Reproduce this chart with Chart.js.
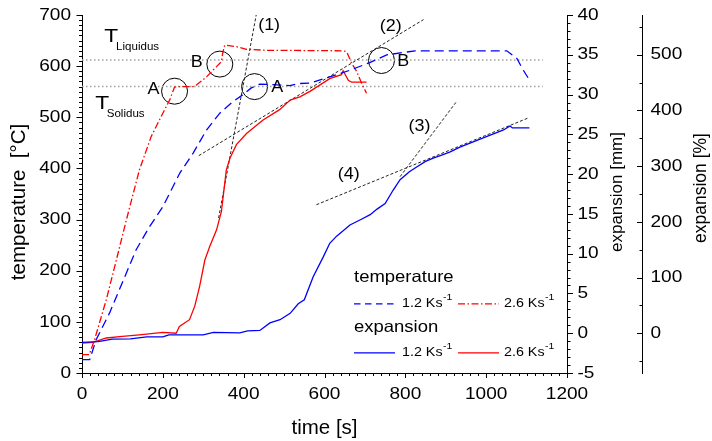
<!DOCTYPE html>
<html>
<head>
<meta charset="utf-8">
<script src="https://cdn.jsdelivr.net/npm/chart.js@4.4.0/dist/chart.umd.min.js"></script>
<style>
  html, body { margin: 0; padding: 0; background: #fff; }
  canvas { display: block; }
</style>
</head>
<body>
<canvas id="chart" width="712" height="441"></canvas>
<script>
// temperature, 1.2 K/s (dashed blue)
const timeT12 = [0, 19, 35, 68, 101, 134, 167, 200, 242, 275, 308, 341, 374, 398, 418, 440, 514, 539, 564, 613, 663, 712, 754, 824, 1051, 1076, 1092, 1107];
const tempT12 = [26, 26, 65, 117, 179, 241, 286, 325, 391, 430, 475, 508, 531, 544, 557, 565, 562, 566, 567, 579, 592, 607, 622, 630, 630, 615, 592, 573];

// temperature, 2.6 K/s (dash-dot red)
const timeT26 = [0, 18, 31, 60, 85, 110, 142, 171, 200, 217, 229, 241, 275, 283, 308, 333, 345, 348, 353, 382, 407, 456, 646, 655, 667, 680, 692, 704];
const tempT26 = [36, 36, 65, 143, 221, 300, 397, 462, 508, 534, 559, 560, 560, 563, 579, 599, 609, 625, 641, 638, 633, 631, 630, 628, 606, 589, 566, 547];

// expansion [mm], 1.2 K/s (solid blue)
const timeE12 = [0, 40, 75, 120, 160, 200, 215, 300, 325, 390, 410, 440, 465, 490, 515, 535, 550, 572, 597, 613, 630, 663, 690, 713, 730, 750, 770, 787, 810, 828, 850, 869, 890, 911, 935, 960, 985, 1010, 1043, 1059, 1065, 1107];
const expE12 = [-1.16, -1.05, -0.75, -0.72, -0.45, -0.45, -0.2, -0.2, 0.1, 0.05, 0.3, 0.35, 1.3, 1.7, 2.5, 3.7, 4.2, 7.1, 9.6, 11.3, 12.2, 13.6, 14.3, 14.9, 15.6, 16.3, 18.0, 19.3, 20.3, 20.9, 21.6, 22.0, 22.4, 22.8, 23.4, 23.9, 24.4, 24.9, 25.55, 26.05, 25.8, 25.8];

// expansion [mm], 2.6 K/s (solid red)
const timeE26 = [0, 27, 60, 100, 142, 200, 233, 241, 266, 279, 291, 304, 316, 333, 345, 357, 366, 382, 407, 448, 489, 515, 539, 564, 613, 642, 646, 659, 667, 704];
const expE26 = [-1.23, -1.16, -0.6, -0.4, -0.2, 0.1, 0.0, 0.85, 1.7, 3.4, 5.9, 9.2, 10.9, 13.0, 15.3, 20.5, 22.0, 23.7, 25.1, 26.8, 28.1, 29.3, 29.7, 30.4, 32.0, 32.5, 33.0, 31.8, 31.55, 31.55];

// tangents (1)-(4), in temperature units
const tan1Time = [338, 431], tan1Val = [303, 700];
const tan2Time = [289, 845], tan2Val = [425, 691];
const tan3Time = [787, 925], tan3Val = [384, 529];
const tan4Time = [580, 1102], tan4Val = [329, 498];

// liquidus / solidus levels
const levelSpan = [0, 1140];
const tLiquidus = 612;
const tSolidus = 560;

// circled points A / B
const circTime = [229, 341, 427, 741];
const circVal = [551, 604, 560, 611];

// tick labels
const tempTicks = [0, 100, 200, 300, 400, 500, 600, 700];
const timeTicks = [0, 200, 400, 600, 800, 1000, 1200];
const mmTicks = [-5, 0, 5, 10, 15, 20, 25, 30, 35, 40];
const pctTicks = [0, 100, 200, 300, 400, 500];
const sampleLength = 7; // mm, 100 %

// labels placed in data units (time, temperature)
const notes = [
  ['A', 177, 555], ['B', 284, 607], ['A', 483, 559], ['B', 795, 609],
  ['(1)', 463, 680], ['(2)', 764, 678], ['(3)', 835, 482], ['(4)', 660, 387]
];
const legendAt = [673, 186];

const BLUE = '#0000ff', RED = '#ff0000';
const DASH = [9, 5], DASHDOT = [7, 2.5, 1.5, 2.5];
const FONT = '"Liberation Sans", Arial, sans-serif';

const pts = (xs, ys) => xs.map((v, i) => ({ x: v, y: ys[i] }));

// the original lettering is a little wide, so text can be stretched by sx
function txt(ctx, s, x, y, size, align, rot, sx) {
  sx = sx || 1.12;
  ctx.save();
  ctx.translate(x, y);
  if (rot) ctx.rotate(rot);
  ctx.scale(sx, 1);
  ctx.font = size + 'px ' + FONT;
  ctx.textAlign = align || 'left';
  ctx.textBaseline = 'middle';
  ctx.fillStyle = '#000';
  ctx.fillText(s, 0, 0);
  const w = ctx.measureText(s).width * sx;
  ctx.restore();
  return w;
}

function vMarks(ctx, s, x0, lo, hi, minor, major, dir) {
  const n = Math.round((hi - lo) / minor);
  ctx.beginPath();
  for (let i = 0; i <= n; i++) {
    const v = lo + i * minor;
    const big = Math.abs(v / major - Math.round(v / major)) < 1e-6;
    const py = Math.round(s.getPixelForValue(v)) + 0.5;
    ctx.moveTo(x0, py);
    ctx.lineTo(x0 + dir * (big ? 5.5 : 3), py);
  }
  ctx.stroke();
}

function hMarks(ctx, s, y0, lo, hi, minor, major) {
  const n = Math.round((hi - lo) / minor);
  ctx.beginPath();
  for (let i = 0; i <= n; i++) {
    const v = lo + i * minor;
    const big = Math.abs(v / major - Math.round(v / major)) < 1e-6;
    const px = Math.round(s.getPixelForValue(v)) + 0.5;
    ctx.moveTo(px, y0);
    ctx.lineTo(px, y0 + (big ? 5 : 3));
  }
  ctx.stroke();
}

function sample(ctx, x1, x2, y, color, dash) {
  ctx.save();
  ctx.strokeStyle = color;
  ctx.lineWidth = 1.3;
  ctx.setLineDash(dash);
  ctx.beginPath();
  ctx.moveTo(x1, y);
  ctx.lineTo(x2, y);
  ctx.stroke();
  ctx.restore();
}

function entry(ctx, s, x, y) {
  const w = txt(ctx, s + ' Ks', x, y, 13, 'left', 0, 1.1);
  txt(ctx, '-1', x + w + 0.5, y - 6, 9.5, 'left', 0, 1.1);
}

const decor = {
  id: 'decor',
  afterDraw(chart) {
    const ctx = chart.ctx;
    const { x, y, mm, pct } = chart.scales;
    ctx.save();
    ctx.strokeStyle = '#000';
    ctx.lineWidth = 1;
    vMarks(ctx, y, y.right, 0, 700, 10, 100, -1);
    vMarks(ctx, mm, mm.left + 0.5, -5, 40, 1, 5, 1);
    vMarks(ctx, pct, pct.left + 0.5, -50, 550, 50, 100, -1);
    hMarks(ctx, x, x.top, 0, 1200, 20, 200);

    tempTicks.forEach(v => txt(ctx, String(v), 71, y.getPixelForValue(v), 17, 'right'));
    timeTicks.forEach(v => txt(ctx, String(v), x.getPixelForValue(v), 394, 17, 'center'));
    mmTicks.forEach(v => txt(ctx, String(v), mm.left + 10.5, mm.getPixelForValue(v), 17));
    pctTicks.forEach(v => txt(ctx, String(v), pct.left + 8.5, pct.getPixelForValue(v), 17));

    const midY = (chart.chartArea.top + chart.chartArea.bottom) / 2;
    txt(ctx, 'temperature  [°C]', 19, midY + 8, 20.5, 'center', -Math.PI / 2, 1);
    txt(ctx, 'time [s]', (x.left + x.right) / 2, 428, 20.5, 'center', 0, 1);
    txt(ctx, 'expansion [mm]', mm.left + 50.5, midY - 2, 17, 'center', -Math.PI / 2, 1);
    txt(ctx, 'expansion [%]', pct.left + 59, midY - 6, 17.5, 'center', -Math.PI / 2, 1);

    notes.forEach(([s, t, v]) => txt(ctx, s, x.getPixelForValue(t), y.getPixelForValue(v), 16, 'center'));

    const lqX = x.getPixelForValue(72), lqY = y.getPixelForValue(657);
    txt(ctx, 'T', lqX, lqY, 19, 'center', 0, 1.2);
    txt(ctx, 'Liquidus', lqX + 5, lqY + 10, 11, 'left', 0, 1.05);
    const soX = x.getPixelForValue(50), soY = y.getPixelForValue(527);
    txt(ctx, 'T', soX, soY, 19, 'center', 0, 1.2);
    txt(ctx, 'Solidus', soX + 4.5, soY + 10, 11, 'left', 0, 1.05);

    const lx = x.getPixelForValue(legendAt[0]), ly = y.getPixelForValue(legendAt[1]);
    txt(ctx, 'temperature', lx, ly, 16.5);
    sample(ctx, lx, lx + 40, ly + 26, BLUE, [6.5, 4.5]);
    entry(ctx, '1.2', lx + 48, ly + 26);
    sample(ctx, lx + 104, lx + 145, ly + 26, RED, DASHDOT);
    entry(ctx, '2.6', lx + 150, ly + 26);
    txt(ctx, 'expansion', lx, ly + 50, 16.5);
    sample(ctx, lx, lx + 41, ly + 75, BLUE, []);
    entry(ctx, '1.2', lx + 48, ly + 75);
    sample(ctx, lx + 104, lx + 145, ly + 75, RED, []);
    entry(ctx, '2.6', lx + 150, ly + 75);
    ctx.restore();
  }
};

const axisBase = {
  type: 'linear',
  ticks: { display: false },
  grid: { drawOnChartArea: false, drawTicks: false },
  border: { color: '#000', width: 1 }
};

const line = (data, color, dash, axis, width) => ({
  data, yAxisID: axis, borderColor: color, borderDash: dash,
  borderWidth: width, pointRadius: 0, tension: 0, fill: false
});

new Chart(document.getElementById('chart'), {
  type: 'line',
  data: {
    datasets: [
      line(pts(timeT12, tempT12), BLUE, DASH, 'y', 1.3),
      line(pts(timeT26, tempT26), RED, DASHDOT, 'y', 1.3),
      line(pts(timeE12, expE12), BLUE, [], 'mm', 1.3),
      line(pts(timeE26, expE26), RED, [], 'mm', 1.3),
      line(pts(tan1Time, tan1Val), '#222', [3, 2], 'y', 1),
      line(pts(tan2Time, tan2Val), '#222', [3, 2], 'y', 1),
      line(pts(tan3Time, tan3Val), '#222', [3, 2], 'y', 1),
      line(pts(tan4Time, tan4Val), '#222', [3, 2], 'y', 1),
      line(pts(levelSpan, [tLiquidus, tLiquidus]), '#a0a0a0', [1.5, 2.5], 'y', 1.5),
      line(pts(levelSpan, [tSolidus, tSolidus]), '#a0a0a0', [1.5, 2.5], 'y', 1.5),
      {
        data: pts(circTime, circVal), yAxisID: 'y', showLine: false,
        pointRadius: 13, pointStyle: 'circle', pointBorderColor: '#000',
        pointBackgroundColor: 'rgba(0,0,0,0)', pointBorderWidth: 1
      }
    ]
  },
  options: {
    responsive: false,
    animation: false,
    events: [],
    layout: { padding: { top: 15, left: 0, right: 0, bottom: 0 } },
    plugins: { legend: { display: false }, tooltip: { enabled: false } },
    scales: {
      x: { ...axisBase, position: 'bottom', min: 0, max: 1200, afterFit: s => { s.height = 68; } },
      y: { ...axisBase, position: 'left', min: 0, max: 700, afterFit: s => { s.width = 82; } },
      mm: { ...axisBase, position: 'right', min: -5, max: 40, afterFit: s => { s.width = 75; } },
      pct: { ...axisBase, position: 'right', min: -5 / sampleLength * 100, max: 40 / sampleLength * 100, afterFit: s => { s.width = 70; } }
    }
  },
  plugins: [decor]
});
</script>
</body>
</html>
